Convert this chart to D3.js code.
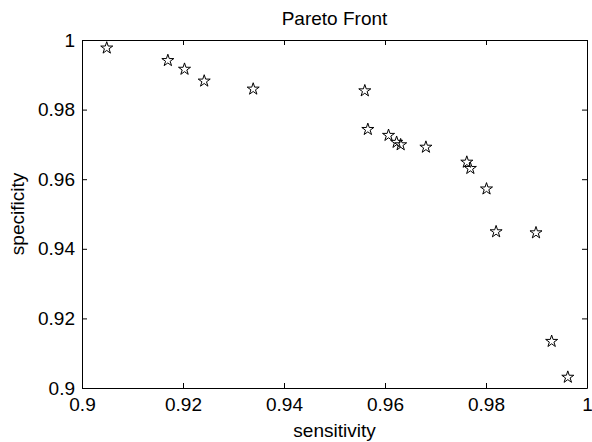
<!DOCTYPE html>
<html>
<head>
<meta charset="utf-8">
<script src="https://cdn.jsdelivr.net/npm/d3@7"></script>
<style>
  body { margin: 0; background: #fff; }
  svg { font-family: "Liberation Sans", Arial, sans-serif; }
</style>
</head>
<body>
<svg id="chart"></svg>
<script>
// pareto front points
const sensitivity = [0.9049, 0.9170, 0.9203, 0.9242, 0.9339, 0.9560, 0.9566, 0.9607, 0.9623, 0.9631,
                     0.9681, 0.9762, 0.9769, 0.9801, 0.9820, 0.9899, 0.9930, 0.9962];
const specificity = [0.9977, 0.9941, 0.9916, 0.9882, 0.9859, 0.9854, 0.9743, 0.9726, 0.9706, 0.9699,
                     0.9692, 0.9649, 0.9631, 0.9572, 0.9449, 0.9446, 0.9134, 0.9031];
const xTicks = [0.9, 0.92, 0.94, 0.96, 0.98, 1];
const xTickLabels = ['0.9', '0.92', '0.94', '0.96', '0.98', '1'];
const yTicks = [0.9, 0.92, 0.94, 0.96, 0.98, 1];
const yTickLabels = ['0.9', '0.92', '0.94', '0.96', '0.98', '1'];

const width = 592, height = 442;
const margin = { top: 40, right: 5, bottom: 54, left: 82 };
const innerW = width - margin.left - margin.right;
const innerH = height - margin.top - margin.bottom;
const fontSize = 19;

const svg = d3.select('#chart').attr('width', width).attr('height', height);
const g = svg.append('g').attr('transform', `translate(${margin.left},${margin.top})`);

const x = d3.scaleLinear().domain([0.9, 1]).range([0, innerW]);
const y = d3.scaleLinear().domain([0.9, 1]).range([innerH, 0]);

// axes, matlab style: ticks point inward, box all round
const styleAxis = sel => {
    sel.selectAll('path').attr('stroke', '#000').attr('stroke-width', 1);
    sel.selectAll('line').attr('stroke', '#000');
    sel.selectAll('text').attr('fill', '#000').style('font-size', fontSize + 'px');
};

g.append('g')
    .attr('transform', `translate(0,${innerH})`)
    .call(d3.axisBottom(x).tickValues(xTicks).tickFormat((d, i) => xTickLabels[i])
        .tickSizeInner(-5).tickSizeOuter(0).tickPadding(9.5))
    .call(styleAxis);

g.append('g')
    .call(d3.axisTop(x).tickValues(xTicks).tickFormat('')
        .tickSizeInner(-5).tickSizeOuter(0))
    .call(styleAxis);

g.append('g')
    .call(d3.axisLeft(y).tickValues(yTicks).tickFormat((d, i) => yTickLabels[i])
        .tickSizeInner(-5).tickSizeOuter(0).tickPadding(7))
    .call(styleAxis);

g.append('g')
    .attr('transform', `translate(${innerW},0)`)
    .call(d3.axisRight(y).tickValues(yTicks).tickFormat('')
        .tickSizeInner(-5).tickSizeOuter(0))
    .call(styleAxis);

// pentagram markers
const points = sensitivity.map((s, i) => ({ s: s, p: specificity[i] }));
const star = d3.symbol().type(d3.symbolStar).size(45);

g.selectAll('path.pt')
    .data(points)
    .join('path')
    .attr('class', 'pt')
    .attr('d', star)
    .attr('transform', d => `translate(${x(d.s)},${y(d.p)})`)
    .attr('fill', 'none')
    .attr('stroke', '#000')
    .attr('stroke-width', 1);

// labels
svg.append('text')
    .attr('x', margin.left + innerW / 2)
    .attr('y', 25)
    .attr('text-anchor', 'middle')
    .style('font-size', fontSize + 'px')
    .text('Pareto Front');

svg.append('text')
    .attr('x', margin.left + innerW / 2)
    .attr('y', 437)
    .attr('text-anchor', 'middle')
    .style('font-size', fontSize + 'px')
    .text('sensitivity');

svg.append('text')
    .attr('transform', `translate(23.5,${margin.top + innerH / 2}) rotate(-90)`)
    .attr('text-anchor', 'middle')
    .style('font-size', fontSize + 'px')
    .text('specificity');
</script>
</body>
</html>
